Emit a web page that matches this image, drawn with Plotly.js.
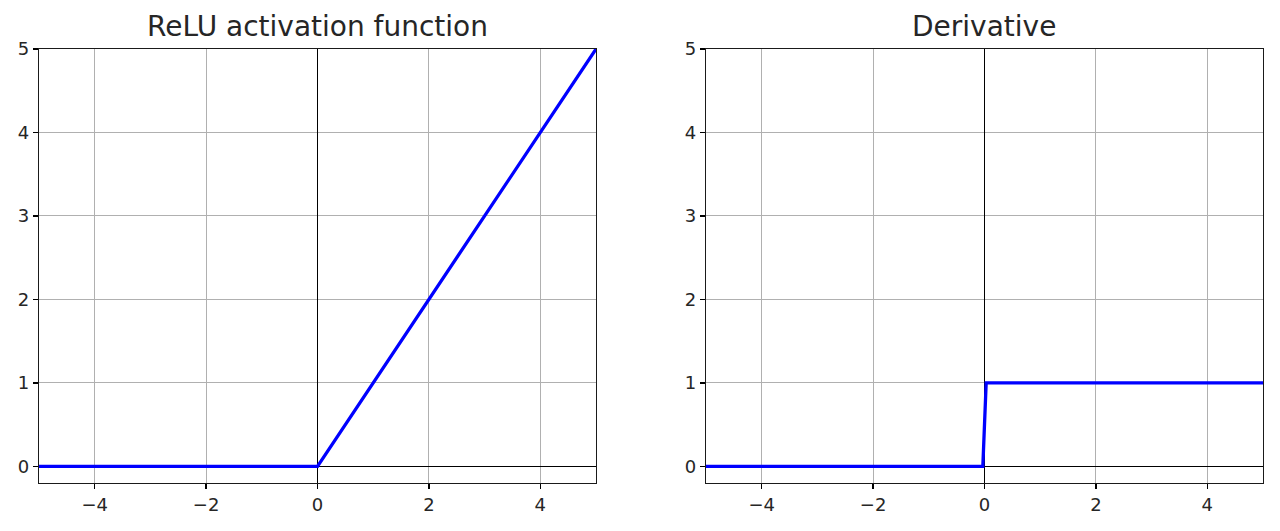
<!DOCTYPE html>
<html>
<head>
<meta charset="utf-8">
<script src="https://cdn.plot.ly/plotly-3.0.1.min.js"></script>
<style>html,body{margin:0;padding:0;background:#fff;}#chart{width:1280px;height:531px;}</style>
</head>
<body>
<div id="chart"></div>
<script>
// Data
const reluX = [-5, 0, 5];
const reluY = [0, 0, 5];
const derivX = [-5, -0.03, 0.03, 5];
const derivY = [0, 0, 1, 1];
const xTickVals = [-4, -2, 0, 2, 4];
const xTickText = ['\u22124', '\u22122', '0', '2', '4'];
const yTickVals = [0, 1, 2, 3, 4, 5];
const yTickText = ['0', '1', '2', '3', '4', '5'];
const titles = ['ReLU activation function', 'Derivative'];

const FONT = 'DejaVu Sans, sans-serif';
const blue = '#0000ff';
const txt = '#262626';

const traces = [
  {x: reluX, y: reluY, xaxis: 'x', yaxis: 'y', mode: 'lines', line: {color: blue, width: 3.3}, hoverinfo: 'skip'},
  {x: derivX, y: derivY, xaxis: 'x2', yaxis: 'y2', mode: 'lines', line: {color: blue, width: 3.3}, hoverinfo: 'skip'}
];

function axisBase() {
  return {
    ticks: 'outside', ticklen: 5, tickwidth: 1.3, tickcolor: '#000',
    showgrid: true, gridcolor: '#b0b0b0', gridwidth: 1,
    zeroline: true, zerolinecolor: '#000', zerolinewidth: 1.5,
    showline: true, linecolor: '#1a1a1a', linewidth: 1.2, mirror: true,
    tickfont: {family: FONT, size: 18, color: txt}, fixedrange: true
  };
}
function xa(domain, anchor) {
  return Object.assign(axisBase(), {
    domain: domain, anchor: anchor, range: [-5, 5],
    tickmode: 'array', tickvals: xTickVals, ticktext: xTickText
  });
}
function ya(domain, anchor) {
  return Object.assign(axisBase(), {
    domain: domain, anchor: anchor, range: [-0.2, 5],
    tickmode: 'array', tickvals: yTickVals, ticktext: yTickText
  });
}

const leftDom = [0, 557/1224];
const rightDom = [667/1224, 1];

const layout = {
  width: 1280, height: 531,
  margin: {l: 39, r: 17, t: 49, b: 48},
  paper_bgcolor: '#fff', plot_bgcolor: '#fff',
  showlegend: false,
  xaxis: xa(leftDom, 'y'),
  yaxis: ya([0, 1], 'x'),
  xaxis2: xa(rightDom, 'y2'),
  yaxis2: ya([0, 1], 'x2'),
  annotations: [
    {text: titles[0], xref: 'paper', yref: 'paper', x: (leftDom[0] + leftDom[1]) / 2, y: 1, xanchor: 'center', yanchor: 'bottom', yshift: 4, showarrow: false, font: {family: FONT, size: 28, color: txt}},
    {text: titles[1], xref: 'paper', yref: 'paper', x: (rightDom[0] + rightDom[1]) / 2, y: 1, xanchor: 'center', yanchor: 'bottom', yshift: 4, showarrow: false, font: {family: FONT, size: 28, color: txt}}
  ]
};

Plotly.newPlot('chart', traces, layout, {displayModeBar: false, staticPlot: true});
</script>
</body>
</html>
